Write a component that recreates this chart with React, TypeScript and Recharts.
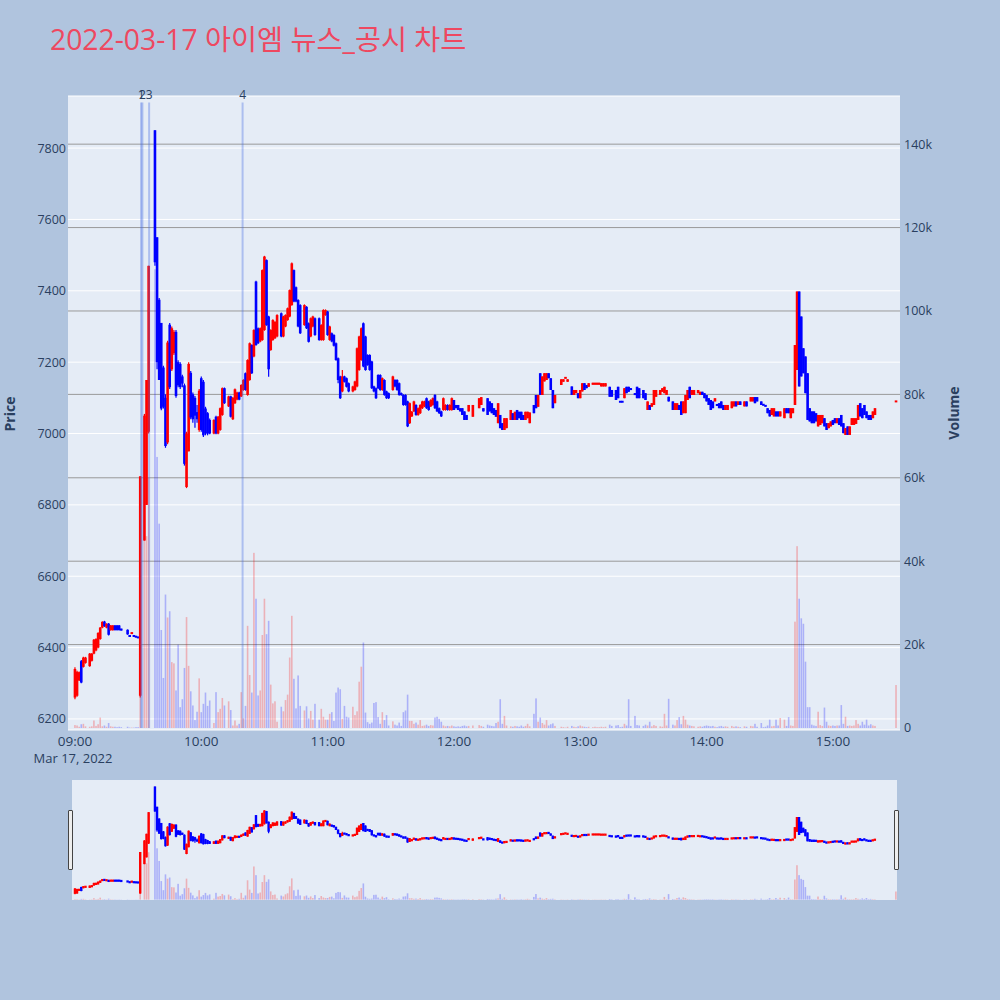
import React from 'react'
import { ComposedChart, Bar, XAxis, YAxis, CartesianGrid, ReferenceLine } from 'recharts'

// one row per minute bar: [minute after 09:00, open, high, low, close, volume]
type Row = [number, number, number, number, number, number]

const h09: Row[] = [
  [0, 6260, 6345, 6255, 6340, 700], [1, 6265, 6335, 6262, 6332, 600], [2, 6308, 6333, 6306, 6331, 300],
  [3, 6362, 6365, 6300, 6302, 900], [4, 6346, 6374, 6344, 6372, 1000], [5, 6357, 6374, 6355, 6372, 400],
  [7, 6348, 6385, 6346, 6383, 300], [8, 6363, 6385, 6361, 6383, 400], [9, 6383, 6424, 6381, 6422, 1800],
  [10, 6392, 6426, 6390, 6424, 500], [11, 6400, 6443, 6398, 6441, 900], [12, 6424, 6458, 6422, 6456, 2500],
  [13, 6456, 6474, 6454, 6472, 400], [14, 6473, 6475, 6458, 6460, 600], [15, 6456, 6468, 6454, 6467, 300],
  [16, 6467, 6469, 6434, 6436, 1200], [17, 6449, 6463, 6447, 6462, 400], [18, 6449, 6463, 6447, 6462, 300],
  [19, 6462, 6463, 6448, 6449, 300], [20, 6462, 6463, 6448, 6449, 200], [21, 6462, 6463, 6448, 6449, 300],
  [22, 6452, 6453, 6448, 6449, 200], [25, 6450, 6451, 6436, 6437, 300], [26, 6433, 6434, 6431, 6432, 100],
  [27, 6440, 6442, 6439, 6441, 100], [28, 6433, 6434, 6431, 6432, 100], [29, 6431, 6432, 6429, 6430, 200],
  [30, 6429, 6430, 6427, 6428, 200], [31, 6265, 6880, 6260, 6880, 35000], [33, 6700, 7055, 6700, 7050, 50000],
  [34, 6800, 7150, 6800, 7150, 46000], [35, 7005, 7470, 7000, 7470, 60000], [38, 7850, 7850, 7470, 7480, 110000],
  [39, 7550, 7550, 7180, 7200, 65000], [40, 7375, 7380, 7150, 7150, 49000], [41, 7310, 7310, 7065, 7070, 23500],
  [42, 7185, 7190, 7070, 7075, 12000], [43, 7100, 7110, 6960, 6965, 32000], [44, 6975, 7260, 6970, 7255, 26500],
  [45, 7305, 7310, 7125, 7130, 28000], [46, 7180, 7300, 7175, 7295, 15800], [47, 7225, 7290, 7220, 7285, 15500],
  [48, 7285, 7290, 7100, 7105, 9000], [49, 7200, 7205, 7130, 7135, 20000], [50, 7195, 7200, 7125, 7130, 5000],
  [51, 7160, 7165, 7130, 7140, 6900], [52, 7135, 7140, 6910, 6915, 14400], [53, 6850, 7005, 6847, 7000, 26600],
  [54, 6950, 7200, 6950, 7195, 14900], [55, 7170, 7175, 7040, 7045, 8800], [56, 7110, 7115, 7030, 7040, 5400],
  [57, 7100, 7105, 7016, 7050, 1900], [58, 7060, 7080, 7030, 7040, 3900], [59, 7010, 7125, 7005, 7120, 11900],
]

const h10: Row[] = [
  [60, 7155, 7160, 7005, 7010, 3800], [61, 7145, 7150, 6990, 6995, 5800], [62, 7070, 7075, 6995, 7000, 8500],
  [63, 7057, 7060, 6995, 7000, 5300], [64, 7038, 7042, 6998, 7000, 6600], [66, 7000, 7040, 6998, 7038, 1200],
  [67, 7047, 7050, 6998, 7000, 8600], [68, 7000, 7049, 6998, 7047, 3800], [69, 7010, 7073, 7008, 7071, 4600],
  [70, 7052, 7129, 7050, 7127, 7200], [71, 7127, 7129, 7083, 7085, 5400], [73, 7076, 7106, 7074, 7104, 6400],
  [74, 7104, 7106, 7045, 7047, 4300], [75, 7040, 7102, 7038, 7100, 600], [76, 7085, 7126, 7083, 7124, 1800],
  [77, 7095, 7117, 7093, 7115, 600], [78, 7115, 7117, 7093, 7095, 1000], [79, 7104, 7138, 7102, 7136, 8600],
  [80, 7122, 7152, 7120, 7150, 2300], [81, 7169, 7171, 7120, 7122, 5300], [82, 7108, 7208, 7106, 7206, 24500],
  [83, 7150, 7255, 7148, 7253, 12700], [84, 7248, 7250, 7167, 7169, 8500], [85, 7216, 7292, 7214, 7290, 42000],
  [86, 7426, 7428, 7246, 7248, 31000], [87, 7295, 7297, 7251, 7253, 7800], [88, 7258, 7297, 7256, 7295, 9000],
  [89, 7262, 7460, 7260, 7458, 22300], [90, 7290, 7498, 7288, 7496, 31000], [91, 7486, 7488, 7302, 7304, 22500],
  [92, 7328, 7330, 7159, 7180, 25700], [93, 7234, 7292, 7232, 7290, 10400], [94, 7262, 7320, 7260, 7318, 5900],
  [95, 7267, 7315, 7265, 7313, 6400], [96, 7272, 7334, 7270, 7332, 1500], [98, 7337, 7339, 7270, 7272, 5100],
  [99, 7272, 7330, 7270, 7328, 4000], [100, 7300, 7334, 7298, 7332, 6700], [101, 7318, 7353, 7316, 7351, 8000],
  [102, 7328, 7404, 7326, 7402, 16900], [103, 7360, 7479, 7358, 7477, 26900], [104, 7458, 7460, 7368, 7370, 11800],
  [105, 7410, 7412, 7368, 7370, 4700], [106, 7374, 7376, 7298, 7300, 12600], [107, 7360, 7362, 7279, 7281, 5300],
  [109, 7304, 7362, 7302, 7360, 4200], [110, 7355, 7357, 7293, 7295, 5200], [111, 7309, 7311, 7255, 7257, 2300],
  [112, 7272, 7325, 7270, 7323, 4100], [113, 7300, 7330, 7298, 7328, 2000], [114, 7323, 7325, 7274, 7276, 5800],
  [116, 7323, 7325, 7260, 7262, 2000], [117, 7262, 7306, 7260, 7304, 4600], [118, 7262, 7348, 7260, 7346, 2700],
  [119, 7332, 7348, 7330, 7346, 2000],
]

const h11: Row[] = [
  [120, 7342, 7344, 7274, 7276, 2000], [121, 7262, 7302, 7260, 7300, 3400], [122, 7281, 7283, 7256, 7258, 3800],
  [123, 7276, 7278, 7244, 7246, 1700], [124, 7253, 7255, 7204, 7206, 8500], [125, 7211, 7213, 7141, 7150, 9700],
  [126, 7160, 7162, 7097, 7099, 9300], [127, 7118, 7178, 7116, 7160, 2200], [128, 7160, 7162, 7143, 7145, 5300],
  [129, 7155, 7157, 7129, 7131, 2700], [130, 7141, 7143, 7116, 7118, 2500], [132, 7118, 7134, 7116, 7132, 5100],
  [133, 7122, 7148, 7120, 7146, 3100], [134, 7132, 7241, 7130, 7239, 4000], [135, 7178, 7274, 7176, 7272, 11100],
  [136, 7206, 7297, 7204, 7295, 14700], [137, 7309, 7311, 7186, 7188, 20500], [138, 7272, 7274, 7176, 7178, 3700],
  [139, 7220, 7222, 7190, 7192, 1400], [140, 7220, 7222, 7176, 7178, 1000], [141, 7202, 7204, 7125, 7127, 1300],
  [142, 7132, 7134, 7116, 7118, 6000], [143, 7127, 7129, 7097, 7099, 6200], [144, 7164, 7166, 7125, 7127, 2600],
  [145, 7164, 7166, 7120, 7122, 1000], [146, 7122, 7157, 7120, 7155, 3800], [147, 7150, 7152, 7106, 7108, 1900],
  [148, 7118, 7120, 7097, 7099, 3100], [149, 7113, 7115, 7097, 7099, 600], [151, 7122, 7162, 7120, 7160, 1600],
  [152, 7150, 7152, 7130, 7132, 800], [153, 7150, 7152, 7120, 7122, 600], [154, 7141, 7143, 7106, 7108, 1300],
  [155, 7113, 7115, 7106, 7108, 500], [156, 7108, 7110, 7078, 7080, 3800], [157, 7108, 7110, 7078, 7080, 4200],
  [158, 7090, 7092, 7018, 7020, 8000], [159, 7029, 7087, 7027, 7085, 1700], [160, 7048, 7063, 7046, 7061, 1700],
  [161, 7062, 7092, 7060, 7090, 1000], [162, 7080, 7082, 7050, 7052, 1300], [163, 7052, 7073, 7050, 7071, 800],
  [164, 7057, 7082, 7055, 7080, 1900], [165, 7071, 7092, 7069, 7090, 500], [166, 7076, 7092, 7074, 7090, 600],
  [167, 7099, 7101, 7069, 7071, 800], [168, 7090, 7092, 7064, 7066, 500], [169, 7076, 7096, 7074, 7094, 700],
  [170, 7080, 7101, 7078, 7099, 600], [171, 7108, 7110, 7069, 7071, 2500], [172, 7090, 7092, 7060, 7062, 2700],
  [173, 7071, 7073, 7055, 7057, 2200], [174, 7062, 7064, 7046, 7048, 1500], [175, 7066, 7101, 7064, 7099, 600],
  [176, 7066, 7082, 7064, 7080, 400], [177, 7080, 7082, 7064, 7066, 500], [178, 7066, 7082, 7064, 7080, 400],
  [179, 7066, 7101, 7064, 7099, 600],
]

const h12: Row[] = [
  [180, 7094, 7094, 7066, 7066, 400], [181, 7080, 7080, 7071, 7071, 300], [182, 7080, 7080, 7066, 7066, 400],
  [183, 7071, 7071, 7062, 7062, 300], [184, 7071, 7071, 7052, 7052, 500], [185, 7062, 7062, 7038, 7038, 600],
  [186, 7052, 7052, 7038, 7038, 400], [187, 7062, 7080, 7062, 7080, 500], [189, 7047, 7080, 7047, 7080, 600],
  [192, 7071, 7099, 7071, 7099, 700], [193, 7080, 7102, 7080, 7102, 500], [194, 7071, 7071, 7062, 7062, 300],
  [196, 7099, 7099, 7052, 7052, 800], [197, 7090, 7090, 7062, 7062, 600], [198, 7085, 7085, 7057, 7057, 500],
  [199, 7071, 7071, 7052, 7052, 400], [200, 7066, 7066, 7047, 7047, 1200], [201, 7029, 7085, 7029, 7085, 1500],
  [202, 7052, 7052, 7015, 7015, 6900], [203, 7029, 7029, 7010, 7010, 1000], [204, 7010, 7043, 7010, 7043, 2900],
  [205, 7015, 7043, 7015, 7043, 600], [207, 7038, 7066, 7038, 7066, 400], [208, 7057, 7057, 7038, 7038, 300],
  [209, 7038, 7061, 7038, 7061, 500], [210, 7066, 7066, 7038, 7038, 400], [211, 7061, 7061, 7043, 7043, 300],
  [212, 7061, 7061, 7038, 7038, 600], [213, 7052, 7052, 7038, 7038, 300], [214, 7038, 7061, 7038, 7061, 500],
  [215, 7043, 7061, 7043, 7061, 1000], [216, 7029, 7059, 7029, 7059, 400], [218, 7080, 7080, 7057, 7057, 3400],
  [219, 7108, 7108, 7071, 7071, 7100], [220, 7075, 7108, 7075, 7108, 1500], [221, 7169, 7169, 7108, 7108, 2500],
  [222, 7108, 7160, 7108, 7160, 1200], [223, 7146, 7169, 7146, 7169, 800], [224, 7150, 7169, 7150, 7169, 1900],
  [225, 7169, 7169, 7155, 7155, 600], [226, 7155, 7155, 7122, 7122, 900], [227, 7122, 7122, 7071, 7071, 1100],
  [228, 7085, 7108, 7085, 7108, 500], [231, 7136, 7152, 7136, 7152, 300], [232, 7145, 7152, 7145, 7152, 200],
  [233, 7155, 7158, 7155, 7157, 100], [234, 7145, 7152, 7145, 7152, 300], [236, 7132, 7132, 7108, 7108, 500],
  [237, 7108, 7122, 7108, 7122, 300], [238, 7113, 7122, 7113, 7122, 200], [239, 7113, 7113, 7099, 7099, 400],
]

const h13: Row[] = [
  [240, 7099, 7122, 7099, 7122, 600], [241, 7118, 7141, 7118, 7141, 400], [242, 7141, 7141, 7122, 7122, 300],
  [243, 7136, 7136, 7127, 7127, 200], [244, 7131, 7141, 7131, 7141, 300], [246, 7137, 7142, 7137, 7142, 200],
  [247, 7137, 7142, 7137, 7142, 300], [248, 7137, 7142, 7137, 7142, 200], [249, 7137, 7142, 7137, 7142, 200],
  [250, 7132, 7141, 7132, 7141, 300], [251, 7132, 7141, 7132, 7141, 200], [252, 7132, 7141, 7132, 7141, 300],
  [254, 7131, 7131, 7103, 7103, 800], [255, 7122, 7122, 7103, 7103, 500], [257, 7122, 7122, 7094, 7094, 600],
  [258, 7131, 7131, 7099, 7099, 700], [259, 7090, 7091, 7088, 7088, 200], [260, 7090, 7091, 7088, 7088, 300],
  [261, 7099, 7127, 7099, 7127, 1000], [262, 7131, 7131, 7113, 7113, 600], [263, 7131, 7131, 7117, 7117, 6900],
  [264, 7127, 7127, 7122, 7122, 500], [266, 7113, 7113, 7108, 7108, 2900], [267, 7131, 7131, 7099, 7099, 700],
  [268, 7127, 7127, 7099, 7099, 600], [270, 7122, 7122, 7099, 7099, 500], [271, 7113, 7113, 7094, 7094, 800],
  [272, 7066, 7090, 7066, 7090, 600], [273, 7080, 7080, 7066, 7066, 1500], [274, 7075, 7085, 7075, 7085, 400],
  [275, 7080, 7122, 7080, 7122, 700], [276, 7103, 7122, 7103, 7122, 500], [278, 7108, 7122, 7108, 7122, 400],
  [279, 7117, 7127, 7117, 7127, 300], [280, 7113, 7131, 7113, 7131, 3400], [281, 7108, 7122, 7108, 7122, 600],
  [282, 7103, 7103, 7090, 7090, 7000], [284, 7090, 7090, 7066, 7066, 800], [285, 7066, 7085, 7066, 7085, 600],
  [286, 7066, 7085, 7066, 7085, 1900], [287, 7080, 7080, 7066, 7066, 2600], [288, 7090, 7090, 7052, 7052, 900],
  [289, 7057, 7090, 7057, 7090, 2900], [290, 7057, 7108, 7057, 7108, 2000], [291, 7094, 7122, 7094, 7122, 800],
  [292, 7131, 7131, 7099, 7099, 600], [293, 7108, 7122, 7108, 7122, 500], [294, 7108, 7122, 7108, 7122, 400],
  [296, 7113, 7122, 7113, 7122, 300], [297, 7108, 7117, 7108, 7117, 400], [298, 7117, 7117, 7108, 7108, 300],
  [299, 7113, 7113, 7099, 7099, 500],
]

const h14: Row[] = [
  [300, 7108, 7108, 7090, 7090, 600], [301, 7099, 7099, 7080, 7080, 500], [302, 7094, 7094, 7066, 7066, 400],
  [303, 7090, 7090, 7071, 7071, 500], [304, 7090, 7099, 7090, 7099, 300], [305, 7081, 7081, 7079, 7079, 200],
  [306, 7085, 7085, 7071, 7071, 400], [307, 7090, 7090, 7071, 7071, 500], [308, 7080, 7080, 7066, 7066, 300],
  [309, 7066, 7080, 7066, 7080, 400], [310, 7066, 7080, 7066, 7080, 300], [312, 7071, 7090, 7071, 7090, 500],
  [313, 7076, 7090, 7076, 7090, 300], [314, 7090, 7090, 7076, 7076, 400], [315, 7080, 7090, 7080, 7090, 300],
  [316, 7090, 7090, 7080, 7080, 200], [318, 7076, 7090, 7076, 7090, 400], [319, 7090, 7090, 7076, 7076, 300],
  [321, 7090, 7102, 7090, 7102, 500], [322, 7090, 7102, 7090, 7102, 400], [323, 7102, 7102, 7085, 7085, 1000],
  [324, 7102, 7102, 7090, 7090, 300], [326, 7090, 7090, 7080, 7080, 1200], [327, 7081, 7082, 7079, 7080, 200],
  [328, 7078, 7079, 7076, 7077, 300], [329, 7071, 7071, 7057, 7057, 600], [330, 7066, 7066, 7048, 7048, 2000],
  [331, 7052, 7071, 7052, 7071, 400], [332, 7048, 7071, 7048, 7071, 500], [333, 7062, 7062, 7048, 7048, 2000],
  [334, 7062, 7062, 7048, 7048, 600], [335, 7048, 7062, 7048, 7062, 2400], [337, 7043, 7071, 7043, 7071, 2000],
  [338, 7071, 7071, 7057, 7057, 500], [339, 7071, 7071, 7057, 7057, 2600], [340, 7043, 7071, 7043, 7071, 600],
  [341, 7057, 7071, 7057, 7071, 500], [342, 7080, 7248, 7080, 7248, 25500], [343, 7178, 7398, 7178, 7398, 43600],
  [344, 7398, 7398, 7132, 7132, 31000], [345, 7328, 7328, 7160, 7160, 26300], [346, 7239, 7239, 7169, 7169, 25000],
  [347, 7216, 7216, 7113, 7113, 15900], [348, 7169, 7169, 7038, 7038, 5000], [349, 7071, 7071, 7034, 7034, 5000],
  [350, 7062, 7062, 7029, 7029, 800], [351, 7062, 7062, 7029, 7029, 600], [352, 7057, 7057, 7034, 7034, 500],
  [353, 7020, 7052, 7020, 7052, 3900], [354, 7024, 7052, 7024, 7052, 700], [355, 7029, 7052, 7029, 7052, 500],
  [356, 7043, 7043, 7020, 7020, 4900], [357, 7029, 7029, 7010, 7010, 1500], [358, 7015, 7029, 7015, 7029, 600],
  [359, 7020, 7034, 7020, 7034, 500],
]

const h15: Row[] = [
  [360, 7038, 7038, 7024, 7024, 600], [361, 7043, 7043, 7029, 7029, 500], [362, 7029, 7043, 7029, 7043, 600],
  [363, 7043, 7043, 7024, 7024, 600], [364, 7052, 7052, 7020, 7020, 5500], [365, 7029, 7029, 7001, 7001, 1000],
  [366, 6996, 7015, 6996, 7015, 2700], [367, 7020, 7020, 6996, 6996, 500], [368, 6996, 7020, 6996, 7020, 600],
  [369, 7024, 7043, 7024, 7043, 500], [370, 7024, 7043, 7024, 7043, 600], [371, 7027, 7043, 7027, 7043, 1900],
  [372, 7038, 7080, 7038, 7080, 1000], [373, 7085, 7085, 7048, 7048, 600], [374, 7071, 7071, 7043, 7043, 1500],
  [375, 7080, 7080, 7052, 7052, 800], [376, 7062, 7062, 7043, 7043, 2000], [377, 7052, 7052, 7038, 7038, 600],
  [378, 7052, 7052, 7038, 7038, 900], [379, 7043, 7062, 7043, 7062, 600], [380, 7052, 7071, 7052, 7071, 500],
  [390, 7089, 7091, 7089, 7091, 10300],
]

// news markers (minutes after 09:00)
const newsLabels = ['1', '2', '3', '4']
const newsMinutes = [31.4, 32.0, 35.2, 79.6]

const timeTicks = [0, 60, 120, 180, 240, 300, 360]
const priceTicks = [6200, 6400, 6600, 6800, 7000, 7200, 7400, 7600, 7800]
const volumeTicks = [0, 20000, 40000, 60000, 80000, 100000, 120000, 140000]

const UP = '#ff0000'
const DOWN = '#0000ff'
const INK = '#2a3f5f'
const FONT = '"Open Sans", verdana, arial, sans-serif'

const X_MAIN: [number, number] = [-3.33, 391.86]
const X_SLIDER: [number, number] = [-1.43, 390.5]
const PRICE_DOMAIN: [number, number] = [6169, 7946]
const VOL_DOMAIN: [number, number] = [-480, 151550]

const candles = [...h09, ...h10, ...h11, ...h12, ...h13, ...h14, ...h15].map(
  ([t, open, high, low, close, volume]) => ({ t, open, high, low, close, volume, up: close >= open })
)

const priceRange = (d: any) => [d.low, d.high]

// candle drawn inside the [low, high] bar that recharts positions for us
const makeCandle = (bodyWidth: number, minBody: number) => (props: any) => {
  const { x, y, width, height, payload } = props
  if (!payload || !Number.isFinite(y)) return <g />
  const color = payload.up ? UP : DOWN
  const top = Math.min(y, y + height)
  const h = Math.abs(height)
  const span = payload.high - payload.low
  const unit = span > 0 ? h / span : 0
  const cx = x + width / 2
  let bodyTop = top + (payload.high - Math.max(payload.open, payload.close)) * unit
  let bodyH = Math.abs(payload.open - payload.close) * unit
  if (bodyH < minBody) {
    bodyTop -= (minBody - bodyH) / 2
    bodyH = minBody
  }
  return (
    <g>
      <line x1={cx} x2={cx} y1={top} y2={top + h} stroke={color} strokeWidth={1.2} />
      <rect x={cx - bodyWidth / 2} y={bodyTop} width={bodyWidth} height={bodyH} fill={color} />
    </g>
  )
}

const makeVolume = (barWidth: number) => (props: any) => {
  const { x, y, width, height, payload } = props
  if (!payload || !(height > 0)) return <g />
  return (
    <rect
      x={x + width / 2 - barWidth / 2}
      y={y}
      width={barWidth}
      height={height}
      fill={payload.up ? UP : DOWN}
      fillOpacity={0.25}
    />
  )
}

const candleMain = makeCandle(2.6, 2)
const candleSlider = makeCandle(2.4, 2.2)
const volumeMain = makeVolume(1.6)
const volumeSlider = makeVolume(1.6)

function TimeTick(props: any) {
  const { x, y, payload } = props
  const m = payload.value
  const label = `${String(9 + Math.floor(m / 60)).padStart(2, '0')}:${String(m % 60).padStart(2, '0')}`
  return (
    <g>
      <text x={x} y={y} dy="0.71em" textAnchor="middle" fill={INK} fontSize={13.5} fontFamily={FONT}>
        {label}
      </text>
      {m === 0 && (
        <text x={x - 2} y={y + 18} dy="0.71em" textAnchor="middle" fill={INK} fontSize={13} fontFamily={FONT}>
          Mar 17, 2022
        </text>
      )}
    </g>
  )
}

const newsLabel = (text: string) => (props: any) => {
  const vb = props.viewBox || {}
  return (
    <text x={vb.x} y={(vb.y ?? 103) - 3} textAnchor="middle" fill={INK} fontSize={12} fontFamily={FONT}>
      {text}
    </text>
  )
}

const tickStyle = { fill: INK, fontSize: 12.5, fontFamily: FONT }

export default function App() {
  return (
    <div
      style={{
        position: 'absolute',
        left: 0,
        top: 0,
        width: 1000,
        height: 1000,
        background: '#B0C4DE',
        overflow: 'hidden',
      }}
    >
      <div style={{ position: 'absolute', left: 0, top: 0 }}>
        <ComposedChart width={1000} height={780} data={candles} margin={{ top: 96, right: 0, bottom: 0, left: 0 }}>
          <XAxis
            xAxisId="time"
            dataKey="t"
            type="number"
            domain={X_MAIN}
            allowDataOverflow
            ticks={timeTicks}
            interval={0}
            tick={<TimeTick />}
            tickLine={false}
            axisLine={false}
            tickSize={0}
            tickMargin={6}
            height={50}
          />
          <XAxis xAxisId="vtime" dataKey="t" type="number" domain={X_MAIN} allowDataOverflow hide />
          <YAxis
            yAxisId="price"
            orientation="left"
            type="number"
            domain={PRICE_DOMAIN}
            allowDataOverflow
            ticks={priceTicks}
            interval={0}
            width={68}
            tickLine={false}
            axisLine={false}
            tickSize={0}
            tickMargin={2}
            tick={tickStyle}
          />
          <YAxis
            yAxisId="vol"
            orientation="right"
            type="number"
            domain={VOL_DOMAIN}
            allowDataOverflow
            ticks={volumeTicks}
            interval={0}
            width={100}
            tickLine={false}
            axisLine={false}
            tickSize={0}
            tickMargin={4}
            tick={tickStyle}
            tickFormatter={(v: number) => (v === 0 ? '0' : `${v / 1000}k`)}
          />
          <CartesianGrid xAxisId="time" yAxisId="price" vertical={false} stroke="#ffffff" fill="#E5ECF6" fillOpacity={1} />
          <CartesianGrid
            xAxisId="time"
            yAxisId="vol"
            vertical={false}
            stroke="#999999"
            horizontalValues={volumeTicks.slice(1)}
          />
          {newsMinutes.map((m, i) => (
            <ReferenceLine
              key={`news-${i}`}
              xAxisId="time"
              yAxisId="vol"
              segment={[
                { x: m, y: 0 },
                { x: m, y: 150000 },
              ]}
              stroke="#4169E1"
              strokeOpacity={0.35}
              strokeWidth={2}
              label={newsLabel(newsLabels[i])}
            />
          ))}
          <Bar xAxisId="vtime" yAxisId="vol" dataKey="volume" barSize={2} shape={volumeMain} isAnimationActive={false} />
          <Bar xAxisId="time" yAxisId="price" dataKey={priceRange} barSize={2} shape={candleMain} isAnimationActive={false} />
        </ComposedChart>
      </div>

      {/* range slider */}
      <div style={{ position: 'absolute', left: 72, top: 780, width: 825, height: 120, background: '#E5ECF6' }}>
        <ComposedChart width={825} height={120} data={candles} margin={{ top: 0, right: 0, bottom: 0, left: 0 }}>
          <XAxis xAxisId="time" dataKey="t" type="number" domain={X_SLIDER} allowDataOverflow hide />
          <XAxis xAxisId="vtime" dataKey="t" type="number" domain={X_SLIDER} allowDataOverflow hide />
          <YAxis yAxisId="price" type="number" domain={PRICE_DOMAIN} allowDataOverflow hide />
          <YAxis yAxisId="vol" type="number" domain={VOL_DOMAIN} allowDataOverflow hide />
          <Bar xAxisId="vtime" yAxisId="vol" dataKey="volume" barSize={2} shape={volumeSlider} isAnimationActive={false} />
          <Bar xAxisId="time" yAxisId="price" dataKey={priceRange} barSize={2} shape={candleSlider} isAnimationActive={false} />
        </ComposedChart>
      </div>
      <div
        style={{
          position: 'absolute', left: 68, top: 810, width: 3, height: 58,
          background: '#eeeeee', border: '1px solid #444', borderRadius: 1,
        }}
      />
      <div
        style={{
          position: 'absolute', left: 894, top: 810, width: 3, height: 58,
          background: '#eeeeee', border: '1px solid #444', borderRadius: 1,
        }}
      />

      <svg width={1000} height={1000} style={{ position: 'absolute', left: 0, top: 0, pointerEvents: 'none' }}>
        <text x={50} y={50} fill="#EE4860" fontSize={28.3} fontFamily={'"Open Sans", "Noto Sans CJK KR", sans-serif'}>
          2022-03-17 아이엠 뉴스_공시 차트
        </text>
        <text
          transform="translate(15,414) rotate(-90)"
          textAnchor="middle"
          fill={INK}
          fontSize={14}
          fontWeight="bold"
          fontFamily={FONT}
        >
          Price
        </text>
        <text
          transform="translate(959,413) rotate(-90)"
          textAnchor="middle"
          fill={INK}
          fontSize={14}
          fontWeight="bold"
          fontFamily={FONT}
        >
          Volume
        </text>
      </svg>
    </div>
  )
}
